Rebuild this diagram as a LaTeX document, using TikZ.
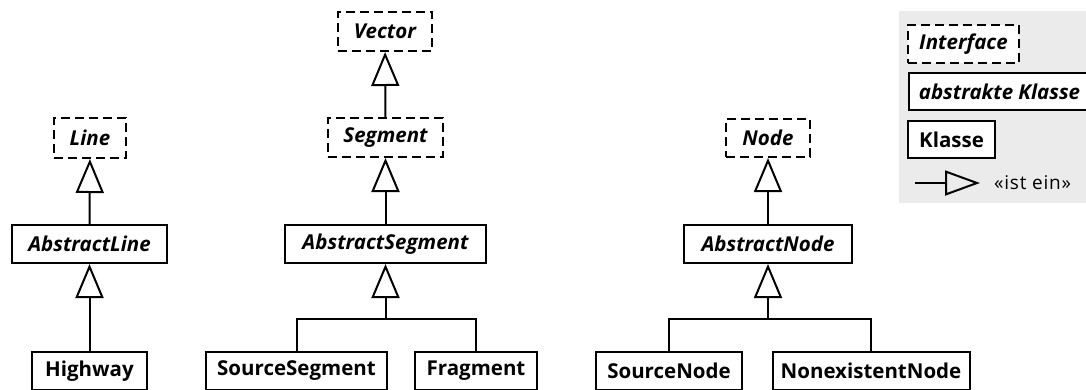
\documentclass[tikz,border=0pt]{standalone}
\usepackage{fontspec}
\setmainfont{Open Sans}
\usetikzlibrary{arrows.meta}
\definecolor{legendgray}{HTML}{EBEBEB}
\tikzset{
  cls/.style={draw, line width=2pt, fill=white, inner sep=0pt, minimum height=38pt, font=\fontsize{20.5}{24}\selectfont\bfseries},
  iface/.style={cls, dash pattern=on 9pt off 5pt, font=\fontsize{20.5}{24}\selectfont\bfseries\itshape},
  abst/.style={cls, font=\fontsize{20.5}{24}\selectfont\bfseries\itshape},
  isa/.style={line width=2pt, -{Triangle[open, length=34pt, width=28pt, line width=2pt]}},
  link/.style={line width=2pt}
}
\begin{document}
\begin{tikzpicture}[x=1pt, y=-1pt]
\useasboundingbox (0,0) rectangle (1086,389);
% legend background
\fill[legendgray] (899,11) rectangle (1095,203);
% left hierarchy
\node[iface, minimum width=72pt, minimum height=40pt] (line) at (90,138) {Line};
\node[abst, minimum width=155pt] (absline) at (89.5,244) {AbstractLine};
\node[cls, minimum width=115pt] (highway) at (89.5,371) {Highway};
% middle hierarchy
\node[iface, minimum width=94pt, minimum height=39pt] (vector) at (385,31.5) {Vector};
\node[iface, minimum width=115pt, minimum height=39pt] (segment) at (385.5,137.5) {Segment};
\node[abst, minimum width=201pt] (absseg) at (385.5,244) {AbstractSegment};
\node[cls, minimum width=181pt] (srcseg) at (296.5,371) {SourceSegment};
\node[cls, minimum width=122pt] (fragment) at (476,371) {Fragment};
% right hierarchy
\node[iface, minimum width=84pt] (node) at (768,138) {Node};
\node[abst, minimum width=168pt] (absnode) at (768,244) {AbstractNode};
\node[cls, minimum width=146pt] (srcnode) at (669,371) {SourceNode};
\node[cls, minimum width=197pt] (nonex) at (871,371) {NonexistentNode};
% junctions
\coordinate (jseg) at (385.5,319);
\coordinate (jnode) at (768,319);
% connectors
\draw[isa] (absline) -- (line);
\draw[isa] (highway) -- (absline);
\draw[isa] (segment) -- (vector);
\draw[isa] (absseg) -- (segment);
\draw[isa] (jseg) -- (absseg);
\draw[link] (srcseg.north) |- (jseg) -| (fragment.north);
\draw[isa] (absnode) -- (node);
\draw[isa] (jnode) -- (absnode);
\draw[link] (srcnode.north) |- (jnode) -| (nonex.north);
% legend
\node[iface, minimum width=111pt] (lgif) at (963.5,44) {Interface};
\node[abst, minimum width=180pt, minimum height=37pt, anchor=west] (lgab) at (908,91.5) {\hspace{1pt}abstrakte Klasse\hspace*{\fill}};
\node[cls, minimum width=87pt, minimum height=37pt] (lgkl) at (951.5,139.5) {Klasse};
\coordinate (lga) at (915,183);
\coordinate (lgb) at (980,183);
\draw[line width=2pt, -{Triangle[open, length=35pt, width=25pt, line width=2pt]}] (lga) -- (lgb);
\node[anchor=west, inner sep=0pt, font=\fontsize{19}{22}\selectfont\addfontfeatures{LetterSpace=4}] (lgt) at (994,183) {«ist ein»};
\end{tikzpicture}
\end{document}
